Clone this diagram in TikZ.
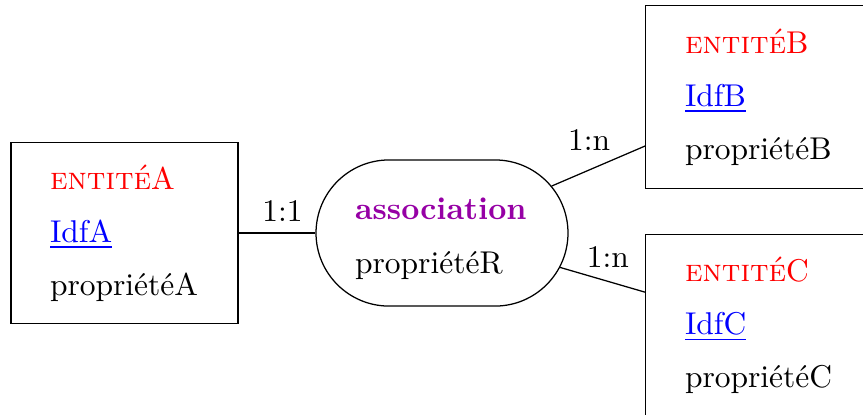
\documentclass[tikz,border=0pt]{standalone}
\usetikzlibrary{shapes.misc}
\definecolor{assoccol}{RGB}{150,0,165}
\begin{document}
\begin{tikzpicture}[x=0.3175pt, y=-0.3175pt,
  entity/.style={draw, rectangle, minimum width=72.1pt, minimum height=57.5pt,
    inner xsep=12.4pt, inner ysep=0pt, text width=47.3pt, align=left},
  openentity/.style={entity, draw=none},
  assocshape/.style={draw, rounded rectangle, minimum width=80pt, minimum height=46.4pt, inner sep=0pt},
  assoctext/.style={inner sep=0pt, text width=55.2pt, align=left},
  card/.style={inner sep=3.33pt},
  link/.style={line width=0.4pt}]
\useasboundingbox (0,0) rectangle (863,414);
\node[entity] (A) at (124.5,233) {{\color{red}\textsc{entité}A}\\[4.8pt]{\color{blue}\underline{IdfA}}\\[4.8pt]propriétéA};
\node[openentity] (B) at (759.5,97) {{\color{red}\textsc{entité}B}\\[4.8pt]{\color{blue}\underline{IdfB}}\\[4.8pt]propriétéB};
\node[openentity] (C) at (759.5,325.5) {{\color{red}\textsc{entité}C}\\[4.8pt]{\color{blue}\underline{IdfC}}\\[4.8pt]propriétéC};
\draw[link] (B.north east) -- (B.north west) -- (B.south west) -- (B.south east);
\draw[link] (C.north east) -- (C.north west) -- (C.south west) -- (C.south east);
\node[assocshape] (R) at (442,233) {};
\node[assoctext] (Rt) at (442,239) {{\color{assoccol}\textbf{association}}\\[5.3pt]propriétéR};
\draw[link] (A) -- node[card, pos=0.57, above] (l1) {1:1} (R);
\draw[link] (R) -- node[card, pos=0.4, above=2.7pt] (l2) {1:n} (B);
\draw[link] (R) -- node[card, pos=0.56, above=1pt] (l3) {1:n} (C);
\end{tikzpicture}
\end{document}
